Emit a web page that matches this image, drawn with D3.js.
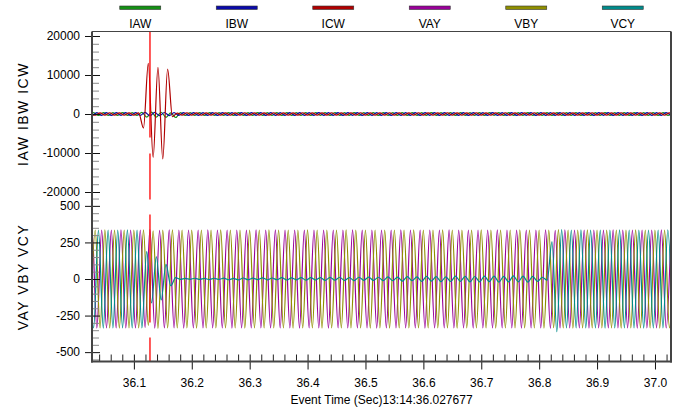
<!DOCTYPE html>
<html>
<head>
<meta charset="utf-8">
<script src="https://cdn.jsdelivr.net/npm/d3@7/dist/d3.min.js"></script>
<style>
body { margin: 0; background: #fff; }
svg { font-family: "Liberation Sans", Arial, sans-serif; }
</style>
</head>
<body>
<svg width="681" height="408"></svg>
<script>
// **** data (extrema of each trace, one every half cycle) ****
var startTime = 36.027677
var endTime = 37.027677
var halfCycle = 1 / 120
var faultTime = 36.1278

var timeTicks = [36.1, 36.2, 36.3, 36.4, 36.5, 36.6, 36.7, 36.8, 36.9, 37.0]
var currentTicks = [-20000, -10000, 0, 10000, 20000]
var voltageTicks = [-500, -250, 0, 250, 500]

var names = ['IAW', 'IBW', 'ICW', 'VAY', 'VBY', 'VCY']
var colors = ['#149014', '#0a0aa8', '#b00000', '#990099', '#8f8f00', '#008b8b']

var iawStart = 36.02215
var iaw = [
  -350, 340, -360, 350, -340, 360, -350, 340, -350, 360, -340, 400,
  -800, 500, -800, 450, -850, 300, -900, 350, -380, 360, -350, 340,
  -360, 350, -340, 360, -350, 340, -360, 350, -340, 360, -350, 340,
  -350, 360, -340, 350, -360, 340, -350, 360, -340, 350, -360, 340,
  -350, 340, -360, 350, -340, 360, -350, 340, -350, 360, -340, 350,
  -360, 350, -340, 360, -350, 340, -360, 350, -340, 360, -350, 340,
  -350, 360, -340, 350, -360, 340, -350, 360, -340, 350, -360, 340,
  -350, 340, -360, 350, -340, 360, -350, 340, -350, 360, -340, 350,
  -360, 350, -340, 360, -350, 340, -360, 350, -340, 360, -350, 340,
  -350, 360, -340, 350, -360, 340, -350, 360, -340, 350, -360, 340,
  -350, 350
]
var ibwStart = 36.01937
var ibw = [
  350, -340, 360, -350, 340, -360, 350, -340, 350, -360, 340, -350,
  420, -450, 400, -430, 380, -400, 360, -350, 340, -360, 350, -340,
  360, -350, 340, -360, 350, -340, 360, -350, 340, -360, 350, -340,
  350, -360, 340, -350, 360, -340, 350, -360, 340, -350, 360, -340,
  350, -340, 360, -350, 340, -360, 350, -340, 350, -360, 340, -350,
  360, -350, 340, -360, 350, -340, 360, -350, 340, -360, 350, -340,
  350, -360, 340, -350, 360, -340, 350, -360, 340, -350, 360, -340,
  350, -340, 360, -350, 340, -360, 350, -340, 350, -360, 340, -350,
  360, -350, 340, -360, 350, -340, 360, -350, 340, -360, 350, -340,
  350, -360, 340, -350, 360, -340, 350, -360, 340, -350, 360, -340,
  350, -350
]
var icwStart = 36.02492
var icw = [
  300, -320, 310, -300, 320, -310, 300, -320, 310, -300, 300, -3600,
  12970, -11130, 11950, -11540, 11540, -700, 250, -300, 320, -310, 300, -320,
  310, -300, 320, -310, 300, -320, 310, -300, 320, -310, 300, -320,
  310, -300, 320, -310, 300, -320, 310, -300, 320, -310, 300, -320,
  310, -300, 320, -310, 300, -320, 310, -300, 320, -310, 300, -320,
  310, -300, 320, -310, 300, -320, 310, -300, 320, -310, 300, -320,
  310, -300, 320, -310, 300, -320, 310, -300, 320, -310, 300, -320,
  310, -300, 320, -310, 300, -320, 310, -300, 320, -310, 300, -320,
  310, -300, 320, -310, 300, -320, 310, -300, 320, -310, 300, -320,
  310, -300, 320, -310, 300, -320, 310, -300, 320, -310, 300, -320,
  310, -300
]

var vayStart = 36.01938
var vay = [
  -334, 335, -336, 335, -335, 334, -335, 336, -335, 335, -334, 335,
  -332, 338, -336, 333, -335, 336, -334, 335, -336, 335, -334, 335,
  -335, 336, -334, 335, -335, 334, -336, 335, -335, 334, -335, 336,
  -334, 335, -335, 336, -335, 334, -335, 335, -336, 334, -335, 335,
  -335, 334, -336, 335, -334, 335, -335, 336, -335, 334, -335, 335,
  -336, 335, -334, 335, -335, 336, -334, 335, -335, 334, -336, 335,
  -335, 335, -334, 336, -335, 334, -335, 335, -336, 335, -334, 335,
  -335, 336, -334, 335, -335, 334, -336, 335, -335, 334, -335, 336,
  -337, 333, -335, 336, -334, 335, -335, 334, -336, 335, -335, 334,
  -335, 336, -334, 335, -335, 335, -336, 334, -335, 335, -334, 336,
  -335, 335
]
var vbyStart = 36.02493
var vby = [
  -335, 334, -335, 336, -334, 335, -336, 335, -334, 335, -335, 336,
  -318, 330, -338, 334, -335, 336, -334, 335, -335, 334, -336, 335,
  -334, 335, -335, 336, -335, 334, -335, 335, -336, 334, -335, 335,
  -335, 336, -334, 335, -335, 334, -336, 335, -335, 336, -334, 335,
  -336, 335, -335, 334, -335, 336, -334, 335, -335, 335, -336, 334,
  -335, 334, -336, 335, -334, 335, -335, 336, -335, 334, -335, 335,
  -334, 336, -335, 335, -336, 334, -335, 335, -334, 336, -335, 335,
  -336, 335, -334, 335, -335, 336, -335, 334, -335, 335, -336, 334,
  -333, 337, -335, 334, -336, 335, -335, 336, -334, 335, -335, 334,
  -335, 335, -336, 334, -335, 336, -334, 335, -335, 334, -336, 335,
  -335, 336
]
var vcyStart = 36.02215
var vcy = [
  335, -335, 335, -336, 334, -335, 335, -334, 336, -335, 334, -335,
  187, -164, 152, -143, 100, -46, 9, -3, 4, -2, 5, -3,
  4, -4, 5, -3, 6, -5, 4, -6, 7, -5, 6, -4,
  8, -6, 7, -5, 9, -7, 8, -6, 10, -8, 9, -7,
  10, -9, 11, -8, 12, -10, 9, -11, 12, -9, 13, -10,
  12, -11, 14, -12, 13, -15, 16, -12, 14, -16, 18, -14,
  16, -18, 15, -17, 19, -16, 18, -20, 17, -19, 20, -18,
  19, -21, 18, -20, 22, -19, 20, -22, 18, -16, 12, -8,
  255, -360, 338, -335, 335, -334, 336, -335, 335, -335, 334, -336,
  335, -335, 336, -334, 335, -335, 334, -336, 335, -335, 335, -334,
  336, -335
]

var currentSeries = [
  { name: 'IAW', start: iawStart, values: iaw, color: colors[0] },
  { name: 'IBW', start: ibwStart, values: ibw, color: colors[1] },
  { name: 'ICW', start: icwStart, values: icw, color: colors[2] }
]
var voltageSeries = [
  { name: 'VAY', start: vayStart, values: vay, color: colors[3] },
  { name: 'VBY', start: vbyStart, values: vby, color: colors[4] },
  { name: 'VCY', start: vcyStart, values: vcy, color: colors[5] }
]

// **** scales ****
var plotLeft = 92, plotRight = 671, plotTop = 31.5, plotMid = 196.5, plotBottom = 361.5

var xScale = d3.scaleLinear().domain([startTime, endTime]).range([plotLeft, plotRight])
var iScale = d3.scaleLinear().domain([-21150, 21150]).range([plotMid, plotTop])
var vScale = d3.scaleLinear().domain([-564, 564]).range([plotBottom, plotMid])

var svg = d3.select('svg')

var defs = svg.append('defs')
defs.append('clipPath').attr('id', 'clipTop').append('rect')
    .attr('x', plotLeft).attr('y', plotTop)
    .attr('width', plotRight - plotLeft).attr('height', plotMid - plotTop)
defs.append('clipPath').attr('id', 'clipBottom').append('rect')
    .attr('x', plotLeft).attr('y', plotMid)
    .attr('width', plotRight - plotLeft).attr('height', plotBottom - plotMid)

function points(s) {
    return s.values.map(function(v, i) { return { t: s.start + i * halfCycle, v: v } })
}

function drawTraces(series, yScale, clip) {
    var line = d3.line()
        .x(function(d) { return xScale(d.t) })
        .y(function(d) { return yScale(d.v) })
        .curve(d3.curveMonotoneX)
    svg.append('g')
        .attr('clip-path', 'url(#' + clip + ')')
        .selectAll('path')
        .data(series)
        .enter()
        .append('path')
        .attr('d', function(d) { return line(points(d)) })
        .attr('fill', 'none')
        .attr('stroke', function(d) { return d.color })
        .attr('stroke-width', 1.2)
}

drawTraces(currentSeries, iScale, 'clipTop')
drawTraces(voltageSeries, vScale, 'clipBottom')

// fault marker
svg.append('line')
    .attr('x1', xScale(faultTime)).attr('x2', xScale(faultTime))
    .attr('y1', plotTop).attr('y2', plotBottom)
    .attr('stroke', '#ff0000')
    .attr('stroke-width', 1.3)
    .attr('stroke-dasharray', '106,16,46,15,108,15,200')

// **** axes ****
function notMajor(major) {
    return function(d) { return !major.some(function(m) { return Math.abs(m - d) < 1e-6 }) }
}

function leftAxis(yScale, major, minorStep, limit) {
    var minor = d3.range(-limit, limit + minorStep / 2, minorStep).filter(notMajor(major))
    var g = svg.append('g').attr('transform', 'translate(' + plotLeft + ',0)')
        .call(d3.axisRight(yScale).tickValues(minor).tickSize(7).tickFormat(''))
    g.select('.domain').remove()
    g.selectAll('line').attr('stroke', '#8a8a8a')

    var m = svg.append('g').attr('transform', 'translate(' + plotLeft + ',0)')
        .call(d3.axisLeft(yScale).tickValues(major).tickSize(7).tickPadding(5)
            .tickFormat(function(d) { return d }))
    m.select('.domain').remove()
    m.selectAll('line').attr('x1', 8).attr('stroke', '#111')
    m.selectAll('text').attr('font-size', 12).attr('fill', '#000')
        .attr('font-family', '"Liberation Sans", Arial, sans-serif')
}

leftAxis(iScale, currentTicks, 2000, 20000)
leftAxis(vScale, voltageTicks, 50, 550)

var xMinor = d3.range(36.04, 37.021, 0.02).filter(notMajor(timeTicks))
var xm = svg.append('g').attr('transform', 'translate(0,' + plotBottom + ')')
    .call(d3.axisTop(xScale).tickValues(xMinor).tickSize(7).tickFormat(''))
xm.select('.domain').remove()
xm.selectAll('line').attr('stroke', '#222')

var xa = svg.append('g').attr('transform', 'translate(0,' + plotBottom + ')')
    .call(d3.axisBottom(xScale).tickValues(timeTicks).tickSize(8).tickPadding(9)
        .tickFormat(d3.format('.1f')))
xa.select('.domain').remove()
xa.selectAll('line').attr('y1', -7).attr('stroke', '#111')
xa.selectAll('text').attr('font-size', 12).attr('fill', '#000')
    .attr('font-family', '"Liberation Sans", Arial, sans-serif')

// frame
svg.append('line').attr('x1', plotLeft).attr('x2', plotRight).attr('y1', plotTop).attr('y2', plotTop)
    .attr('stroke', '#444').attr('stroke-width', 1)
svg.append('line').attr('x1', plotLeft).attr('x2', plotLeft).attr('y1', plotTop).attr('y2', plotBottom + 1)
    .attr('stroke', '#444').attr('stroke-width', 2)
svg.append('line').attr('x1', plotRight).attr('x2', plotRight).attr('y1', plotTop).attr('y2', plotBottom + 1)
    .attr('stroke', '#444').attr('stroke-width', 2)
svg.append('line').attr('x1', plotLeft - 1).attr('x2', plotRight + 1).attr('y1', plotBottom).attr('y2', plotBottom)
    .attr('stroke', '#444').attr('stroke-width', 2)

// labels
svg.append('text')
    .attr('transform', 'translate(28,' + (plotTop + plotMid) / 2 + ') rotate(-90)')
    .attr('text-anchor', 'middle')
    .attr('font-size', 14)
    .attr('letter-spacing', '1.5px')
    .text('IAW IBW ICW')

svg.append('text')
    .attr('transform', 'translate(28,' + ((plotMid + plotBottom) / 2 - 2) + ') rotate(-90)')
    .attr('text-anchor', 'middle')
    .attr('font-size', 14)
    .attr('letter-spacing', '1.5px')
    .text('VAY VBY VCY')

svg.append('text')
    .attr('x', (plotLeft + plotRight) / 2)
    .attr('y', 404)
    .attr('text-anchor', 'middle')
    .attr('font-size', 12)
    .text('Event Time (Sec)13:14:36.027677')

// legend
var slot = (plotRight - plotLeft) / names.length
var legend = svg.append('g').selectAll('g')
    .data(names)
    .enter()
    .append('g')
    .attr('transform', function(d, i) { return 'translate(' + (plotLeft + slot * (i + 0.5)) + ',0)' })
legend.append('rect')
    .attr('x', -20.5).attr('y', 6).attr('width', 41).attr('height', 3.5)
    .attr('fill', function(d, i) { return colors[i] })
    .attr('stroke', '#333').attr('stroke-width', 0.6)
legend.append('text')
    .attr('y', 28)
    .attr('text-anchor', 'middle')
    .attr('font-size', 12)
    .text(function(d) { return d })
</script>
</body>
</html>
